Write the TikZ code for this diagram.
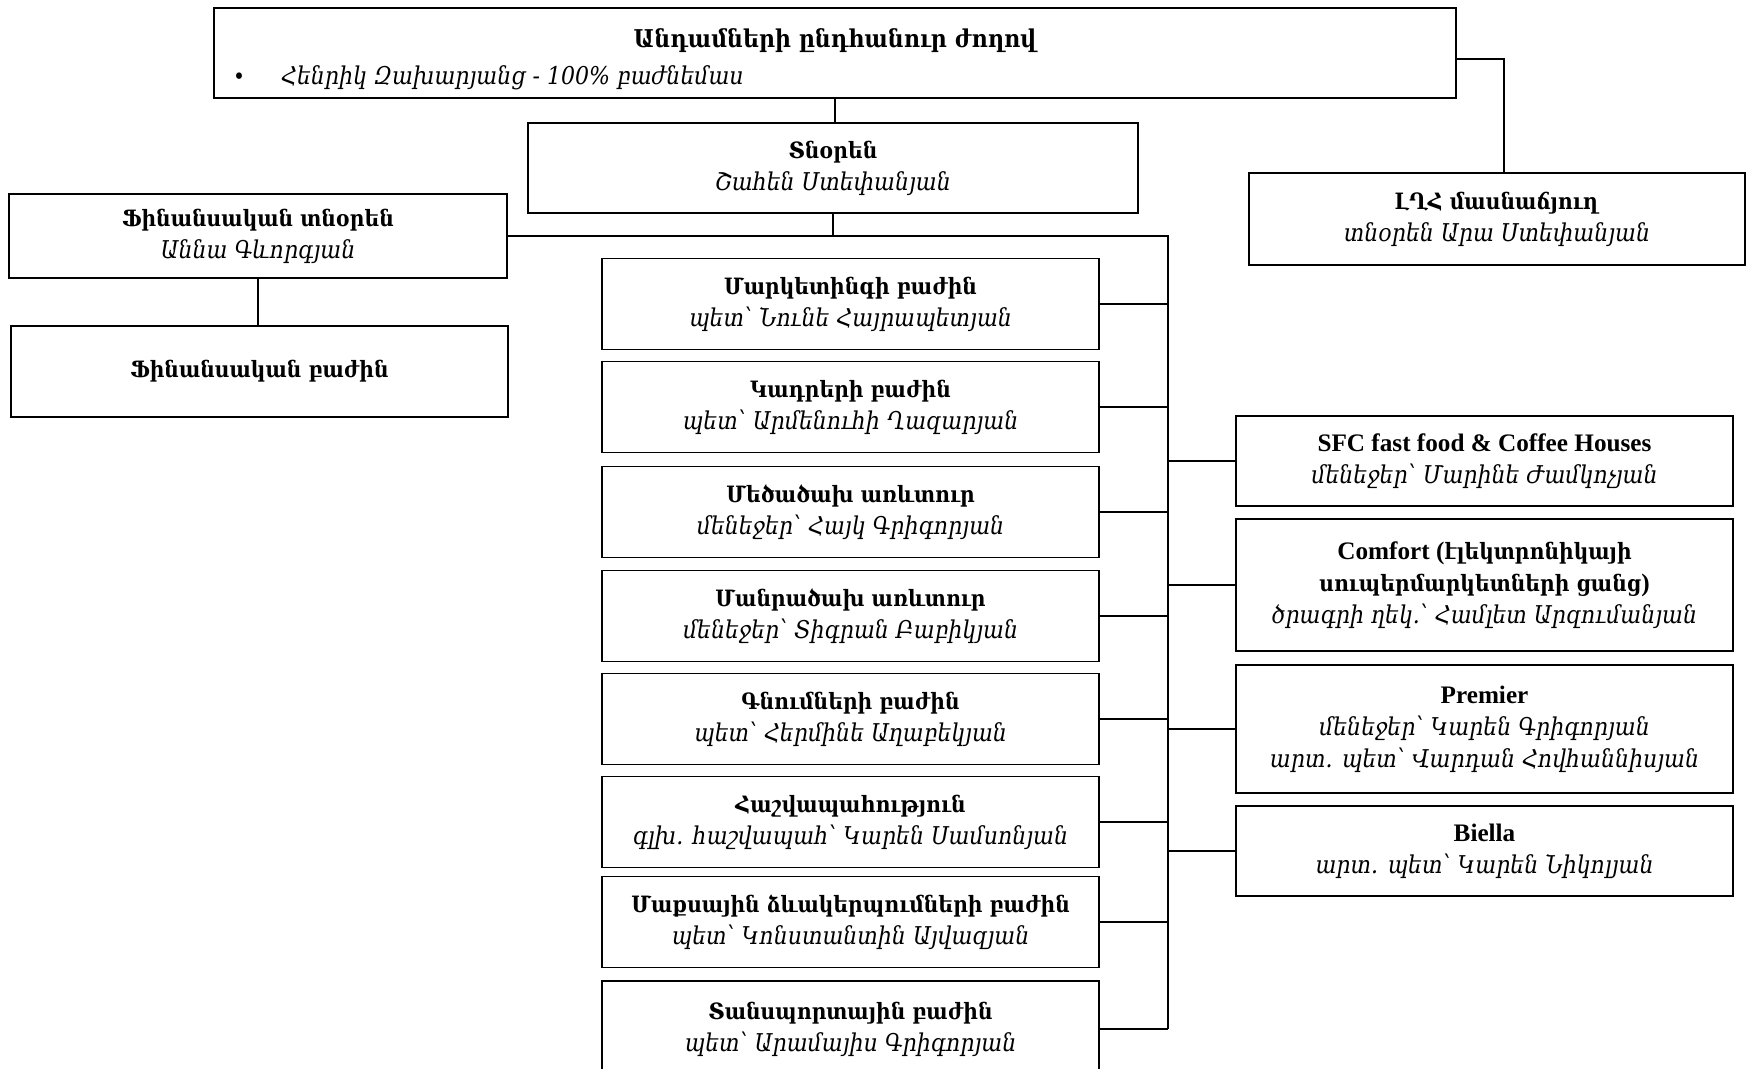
\documentclass[tikz,border=0pt]{standalone}
\usepackage{fontspec}
\setmainfont{DejaVu Serif}[FakeStretch=0.9]
\newfontfamily\lat{Liberation Serif}[Scale=1.12]
\newcommand\pname[1]{{\fontsize{24.5}{32}\selectfont\itshape #1}}
\begin{document}
\begin{tikzpicture}[x=1pt,y=-1pt,
  txt/.style={font=\fontsize{22.5}{32}\selectfont},
  box/.style={txt, draw=black, line width=1.8pt, inner sep=0pt, align=center},
  mid/.style={box, minimum width=497pt, minimum height=91pt},
  rbox/.style={box, minimum width=497pt},
  link/.style={line width=1.8pt}]
\useasboundingbox (0,0) rectangle (1747,1068);
\fill[white] (0,0) rectangle (1747,1068);

% top
\node[box, minimum width=1242pt, minimum height=90pt] (gm) at (835,53) {};
\node[inner sep=0pt, font=\fontsize{24.5}{32}\selectfont\bfseries] (gmt) at (835,41) {Անդամների ընդհանուր ժողով};
\node[txt, inner sep=0pt, anchor=west] (gmb) at (233,78) {\makebox[48pt][l]{•}\pname{Հենրիկ Զախարյանց - 100\% բաժնեմաս}};

\node[box, minimum width=610pt, minimum height=90pt] (dir) at (833,168) {\textbf{Տնօրեն}\\\pname{Շահեն Ստեփանյան}};
\node[box, minimum width=496pt, minimum height=92pt] (lhk) at (1497,219) {\textbf{ԼՂՀ մասնաճյուղ}\\\pname{տնօրեն Արա Ստեփանյան}};
\node[box, minimum width=498pt, minimum height=84pt] (fdir) at (258,236) {\textbf{Ֆինանսական տնօրեն}\\\pname{Աննա Գևորգյան}};
\node[box, minimum width=497pt, minimum height=91pt] (fdep) at (259.5,371.5) {\textbf{Ֆինանսական բաժին}};

% middle column
\node[mid] (m1) at (850.5,304) {\textbf{Մարկետինգի բաժին}\\\pname{պետ՝ Նունե Հայրապետյան}};
\node[mid] (m2) at (850.5,407) {\textbf{Կադրերի բաժին}\\\pname{պետ՝ Արմենուհի Ղազարյան}};
\node[mid] (m3) at (850.5,512) {\textbf{Մեծածախ առևտուր}\\\pname{մենեջեր՝ Հայկ Գրիգորյան}};
\node[mid] (m4) at (850.5,616) {\textbf{Մանրածախ առևտուր}\\\pname{մենեջեր՝ Տիգրան Բաբիկյան}};
\node[mid] (m5) at (850.5,719) {\textbf{Գնումների բաժին}\\\pname{պետ՝ Հերմինե Աղաբեկյան}};
\node[mid] (m6) at (850.5,822) {\textbf{Հաշվապահություն}\\\pname{գլխ. հաշվապահ՝ Կարեն Սամսոնյան}};
\node[mid] (m7) at (850.5,922) {\textbf{Մաքսային ձևակերպումների բաժին}\\\pname{պետ՝ Կոնստանտին Այվազյան}};
\node[mid, minimum height=96pt] (m8) at (850.5,1029) {\textbf{Տանսպորտային բաժին}\\\pname{պետ՝ Արամայիս Գրիգորյան}};

% right column
\node[rbox, minimum height=90pt] (r1) at (1484.5,461) {{\lat\bfseries SFC fast food \& Coffee Houses}\\\pname{մենեջեր՝ Մարինե Ժամկոչյան}};
\node[rbox, minimum height=132pt] (r2) at (1484.5,585) {\textbf{{\lat Comfort (}էլեկտրոնիկայի}\\\textbf{սուպերմարկետների ցանց{\lat )}}\\\pname{ծրագրի ղեկ.՝ Համլետ Արզումանյան}};
\node[rbox, minimum height=128pt] (r3) at (1484.5,729) {{\lat\bfseries Premier}\\\pname{մենեջեր՝ Կարեն Գրիգորյան}\\\pname{արտ. պետ՝ Վարդան Հովհաննիսյան}};
\node[rbox, minimum height=90pt] (r4) at (1484.5,851) {{\lat\bfseries Biella}\\\pname{արտ. պետ՝ Կարեն Նիկոլյան}};

% connectors
\coordinate (tk) at (1168,235);
\draw[link] (gm.south) -- (gm.south |- dir.north);
\draw[link] ([yshift=-6pt]gm.east) -| ([xshift=7pt]lhk.north);
\draw[link] (dir.south) -- (dir.south |- tk);
\draw[link] (fdir.east) -| (m8.east -| tk);
\draw[link] (fdir.south) -- (fdir.south |- fdep.north);
\foreach \m in {m1,m2,m3,m4,m5,m6,m7,m8} {\draw[link] (\m.east) -- (\m.east -| tk);}
\foreach \r in {r1,r2,r3,r4} {\draw[link] (\r.west) -- (\r.west -| tk);}
\end{tikzpicture}
\end{document}
